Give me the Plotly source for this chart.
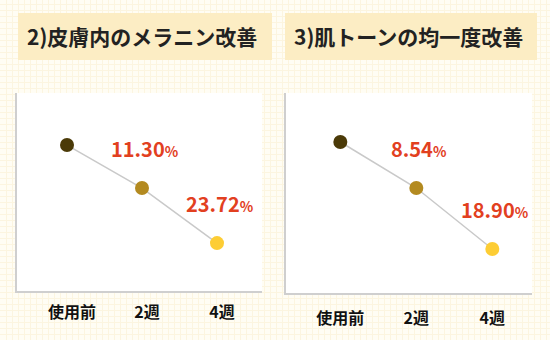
import plotly.graph_objects as go

# ---- data ----
stages = ["使用前", "2週", "4週"]
melanin_level = [73.7, 52.0, 24.2]          # relative level
melanin_improve = [None, "11.30", "23.72"]   # improvement rate %
tone_level = [75.5, 52.5, 22.0]
tone_improve = [None, "8.54", "18.90"]
titles = ["2)皮膚内のメラニン改善", "3)肌トーンの均一度改善"]

# ---- style ----
W, H = 550, 340
FONT = "Noto Sans CJK JP"
marker_colors = ["#4b3a08", "#b38a20", "#fdcd34"]
line_color = "#c9c9c9"
pct_color = "#e2401f"
bg = "#fffdf4"
grid = "#fcf5e0"
title_box = "#fcedc4"

panels = [
    dict(xa="x2", ya="y2", xd=[17 / W, 262 / W], yd=[(H - 291) / H, (H - 93) / H],
         xr=[-0.667, 2.6], level=melanin_level, improve=melanin_improve,
         title=titles[0], box=[18, 272], shift=5, standoff=6),
    dict(xa="x3", ya="y3", xd=[286 / W, 532 / W], yd=[(H - 293) / H, (H - 93) / H],
         xr=[-0.715, 2.522], level=tone_level, improve=tone_improve,
         title=titles[1], box=[285, 537], shift=0, standoff=10),
]

fig = go.Figure()
# background grid subplot (decoration)
fig.add_trace(go.Scatter(x=[None], y=[None], xaxis="x", yaxis="y",
                         showlegend=False, hoverinfo="skip"))

layout = dict(
    width=W, height=H, margin=dict(l=0, r=0, t=0, b=0),
    paper_bgcolor=bg, plot_bgcolor=bg, showlegend=False,
    font=dict(family=FONT),
    xaxis=dict(domain=[0, 1], range=[0, W], dtick=6, tick0=0, showgrid=True,
               gridcolor=grid, gridwidth=1, zeroline=False, showticklabels=False,
               ticks="", fixedrange=True),
    yaxis=dict(domain=[0, 1], range=[0, H], dtick=6, tick0=0, showgrid=True,
               gridcolor=grid, gridwidth=1, zeroline=False, showticklabels=False,
               ticks="", fixedrange=True),
)
shapes = []
annotations = []
xs = list(range(len(stages)))

for p in panels:
    xa, ya = p["xa"], p["ya"]
    xkey = "xaxis" + xa[1:]
    ykey = "yaxis" + ya[1:]
    fig.add_trace(go.Scatter(
        x=xs, y=p["level"], xaxis=xa, yaxis=ya, mode="lines+markers",
        line=dict(color=line_color, width=1.5),
        marker=dict(size=14, color=marker_colors, line=dict(width=0)),
        hoverinfo="skip", cliponaxis=False))
    layout[xkey] = dict(domain=p["xd"], range=p["xr"], anchor=ya,
                        tickvals=xs, ticktext=stages, showgrid=False, zeroline=False,
                        showline=True, linecolor="#cfcfcf", linewidth=2,
                        ticks="", ticklabelshift=p["shift"],
                        ticklabelstandoff=p["standoff"],
                        tickfont=dict(family=FONT, size=16, color="#111111",
                                      weight="bold"),
                        fixedrange=True)
    layout[ykey] = dict(domain=p["yd"], range=[0, 100], anchor=xa,
                        showgrid=False, zeroline=False, showticklabels=False,
                        showline=True, linecolor="#cfcfcf", linewidth=2,
                        ticks="", fixedrange=True)
    # white panel background
    shapes.append(dict(type="rect", xref=xa, yref=ya, x0=p["xr"][0], x1=p["xr"][1],
                       y0=0, y1=100, fillcolor="white", line=dict(width=0),
                       layer="below"))
    # title box
    shapes.append(dict(type="rect", xref="paper", yref="paper",
                       x0=p["box"][0] / W, x1=p["box"][1] / W,
                       y0=1 - 60 / H, y1=1 - 13 / H, fillcolor=title_box,
                       line=dict(width=0), layer="above"))
    annotations.append(dict(text="<b>" + p["title"] + "</b>", xref="paper", yref="paper",
                            x=(p["box"][0] + p["box"][1]) / 2 / W - 3 / W,
                            y=1 - 36 / H, xanchor="center", yanchor="middle",
                            showarrow=False,
                            font=dict(family=FONT, size=21, color="#222222")))
    for i, v in enumerate(p["improve"]):
        if v is None:
            continue
        annotations.append(dict(
            text=f"<b>{v}<span style='font-size:14px'>%</span></b>",
            xref=xa, yref=ya, x=xs[i], y=p["level"][i], showarrow=False,
            xanchor="center", yanchor="middle", xshift=3, yshift=40,
            font=dict(family=FONT, size=20, color=pct_color)))

layout["shapes"] = shapes
layout["annotations"] = annotations
fig.update_layout(**layout)
fig.write_html("out.html")
